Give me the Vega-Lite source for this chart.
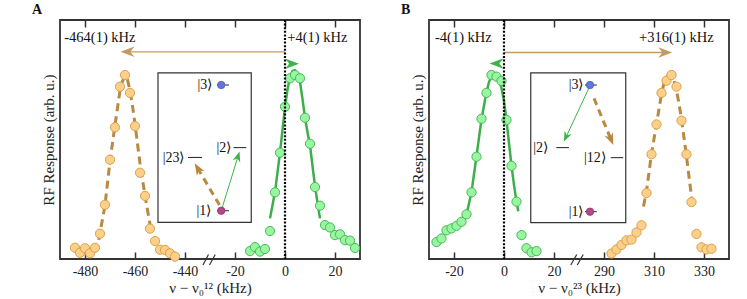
{
  "$schema": "https://vega.github.io/schema/vega-lite/v6.json",
  "background": "white",
  "padding": {"left": 31, "top": 2, "right": 0, "bottom": 0},
  "spacing": 37,
  "config": {
    "view": {"stroke": "#333", "strokeWidth": 1.8}
  },
  "datasets": {
    "orangeA": [
      {"freq": -484, "x": -84, "y": 0.047}, {"freq": -482, "x": -82, "y": 0.026}, {"freq": -480, "x": -80, "y": 0.045},
      {"freq": -478, "x": -78, "y": 0.024}, {"freq": -476, "x": -76, "y": 0.047}, {"freq": -474, "x": -74, "y": 0.106},
      {"freq": -472, "x": -72, "y": 0.227}, {"freq": -470, "x": -70, "y": 0.415}, {"freq": -468, "x": -68, "y": 0.551},
      {"freq": -466, "x": -66, "y": 0.721}, {"freq": -464, "x": -64, "y": 0.770}, {"freq": -462, "x": -62, "y": 0.695},
      {"freq": -460, "x": -60, "y": 0.556}, {"freq": -458, "x": -58, "y": 0.361}, {"freq": -456, "x": -56, "y": 0.264},
      {"freq": -454, "x": -54, "y": 0.127}, {"freq": -452, "x": -52, "y": 0.075}, {"freq": -450, "x": -50, "y": 0.039},
      {"freq": -448, "x": -48, "y": 0.038}, {"freq": -446, "x": -46, "y": 0.024}, {"freq": -444, "x": -44, "y": 0.010}
    ],
    "orangeFitA": [
      {"x": -74.5, "y": 0.08}, {"x": -72, "y": 0.225}, {"x": -70, "y": 0.41}, {"x": -68, "y": 0.56}, {"x": -66, "y": 0.705},
      {"x": -65, "y": 0.745}, {"x": -64, "y": 0.762}, {"x": -63, "y": 0.75}, {"x": -62, "y": 0.705}, {"x": -61, "y": 0.64},
      {"x": -60, "y": 0.565}, {"x": -58, "y": 0.40}, {"x": -56, "y": 0.265}, {"x": -54, "y": 0.145}, {"x": -53.2, "y": 0.11}
    ],
    "greenA": [
      {"x": -14, "y": 0.033}, {"x": -12, "y": 0.050}, {"x": -10, "y": 0.031}, {"x": -8, "y": 0.042}, {"x": -6, "y": 0.117},
      {"x": -4, "y": 0.279}, {"x": -2, "y": 0.445}, {"x": 0, "y": 0.637}, {"x": 2, "y": 0.756}, {"x": 4, "y": 0.770},
      {"x": 6, "y": 0.756}, {"x": 8, "y": 0.591}, {"x": 10, "y": 0.482}, {"x": 12, "y": 0.301}, {"x": 14, "y": 0.223},
      {"x": 16, "y": 0.142}, {"x": 18, "y": 0.132}, {"x": 20, "y": 0.100}, {"x": 22, "y": 0.103}, {"x": 24, "y": 0.079},
      {"x": 26, "y": 0.077}, {"x": 28, "y": 0.046}
    ],
    "greenFitA": [
      {"x": -6, "y": 0.17}, {"x": -4, "y": 0.28}, {"x": -2, "y": 0.445}, {"x": 0, "y": 0.635}, {"x": 1, "y": 0.71},
      {"x": 2, "y": 0.76}, {"x": 3, "y": 0.787}, {"x": 4, "y": 0.79}, {"x": 5, "y": 0.775}, {"x": 6, "y": 0.74},
      {"x": 7, "y": 0.67}, {"x": 8, "y": 0.59}, {"x": 9, "y": 0.53}, {"x": 10, "y": 0.475}, {"x": 11, "y": 0.39},
      {"x": 12, "y": 0.305}, {"x": 13, "y": 0.235}, {"x": 14, "y": 0.17}
    ],
    "orangeB": [
      {"freq": 293, "x": 43, "y": 0.023}, {"freq": 295, "x": 45, "y": 0.040}, {"freq": 297, "x": 47, "y": 0.059},
      {"freq": 299, "x": 49, "y": 0.078}, {"freq": 301, "x": 51, "y": 0.081}, {"freq": 303, "x": 53, "y": 0.111},
      {"freq": 305, "x": 55, "y": 0.141}, {"freq": 307, "x": 57, "y": 0.276}, {"freq": 309, "x": 59, "y": 0.438},
      {"freq": 311, "x": 61, "y": 0.563}, {"freq": 313, "x": 63, "y": 0.695}, {"freq": 315, "x": 65, "y": 0.746},
      {"freq": 317, "x": 67, "y": 0.770}, {"freq": 319, "x": 69, "y": 0.721}, {"freq": 321, "x": 71, "y": 0.579},
      {"freq": 323, "x": 73, "y": 0.438}, {"freq": 325, "x": 75, "y": 0.238}, {"freq": 327, "x": 77, "y": 0.105},
      {"freq": 329, "x": 79, "y": 0.049}, {"freq": 331, "x": 81, "y": 0.040}, {"freq": 333, "x": 83, "y": 0.043}
    ],
    "orangeFitB": [
      {"x": 55.8, "y": 0.22}, {"x": 57, "y": 0.285}, {"x": 59, "y": 0.44}, {"x": 61, "y": 0.565}, {"x": 63, "y": 0.69},
      {"x": 64, "y": 0.735}, {"x": 65, "y": 0.76}, {"x": 66, "y": 0.77}, {"x": 67, "y": 0.765}, {"x": 68, "y": 0.745},
      {"x": 69, "y": 0.705}, {"x": 70, "y": 0.65}, {"x": 71, "y": 0.585}, {"x": 73, "y": 0.43}, {"x": 75, "y": 0.26},
      {"x": 75.4, "y": 0.22}
    ],
    "greenB": [
      {"x": -27, "y": 0.071}, {"x": -25, "y": 0.086}, {"x": -23, "y": 0.120}, {"x": -21, "y": 0.128}, {"x": -19, "y": 0.139},
      {"x": -17, "y": 0.156}, {"x": -15, "y": 0.187}, {"x": -13, "y": 0.279}, {"x": -11, "y": 0.428}, {"x": -9, "y": 0.587},
      {"x": -7, "y": 0.695}, {"x": -5, "y": 0.770}, {"x": -3, "y": 0.763}, {"x": -1, "y": 0.745}, {"x": 1, "y": 0.582},
      {"x": 3, "y": 0.390}, {"x": 5, "y": 0.240}, {"x": 7, "y": 0.100}, {"x": 9, "y": 0.045}, {"x": 11, "y": 0.028},
      {"x": 13, "y": 0.033}
    ],
    "greenFitB": [
      {"x": -14.7, "y": 0.2}, {"x": -13, "y": 0.28}, {"x": -11, "y": 0.43}, {"x": -9, "y": 0.585}, {"x": -7, "y": 0.70},
      {"x": -6, "y": 0.74}, {"x": -5, "y": 0.765}, {"x": -4, "y": 0.775}, {"x": -3, "y": 0.77}, {"x": -2, "y": 0.75},
      {"x": -1, "y": 0.715}, {"x": 0, "y": 0.66}, {"x": 1, "y": 0.58}, {"x": 2, "y": 0.485}, {"x": 3, "y": 0.39},
      {"x": 4, "y": 0.31}, {"x": 5, "y": 0.24}, {"x": 5.7, "y": 0.2}
    ]
  },
  "hconcat": [
    {
      "width": 300,
      "height": 239,
      "title": {"text": "A", "anchor": "start", "frame": "group", "dx": -28, "offset": 2, "font": "Liberation Serif", "fontSize": 14, "fontWeight": "bold", "color": "#111"},
      "layer": [
        {
          "layer": [
            {
              "data": {"values": [{"x": -50.8, "x2": -13.5, "y": 0.779, "y2": 0.153}]},
              "mark": {"type": "rect", "fill": "white", "stroke": "#333", "strokeWidth": 1.2},
              "encoding": {
                "x": {"field": "x", "type": "quantitative", "scale": {"domain": [-90, 30], "nice": false, "zero": false},
                  "axis": {"orient": "bottom", "values": [-80, -60, -40, -20, 0, 20], "labelExpr": "datum.value <= -40 ? '' + (datum.value - 400) : '' + datum.value",
                    "offset": -7, "tickSize": 7, "tickWidth": 1.5, "tickColor": "#333", "domain": false, "grid": false, "labelPadding": 5,
                    "labelFont": "Liberation Serif", "labelFontSize": 14, "labelColor": "#222",
                    "title": "ν − ν₀¹² (kHz)", "titleFont": "Liberation Serif", "titleFontSize": 15, "titleFontWeight": "normal", "titlePadding": 2, "titleColor": "#222"}},
                "x2": {"field": "x2"},
                "y": {"field": "y", "type": "quantitative", "scale": {"domain": [0, 1], "nice": false, "zero": false},
                  "axis": {"orient": "left", "title": "RF Response (arb. u.)", "ticks": false, "labels": false, "domain": false, "grid": false,
                    "titleFont": "Liberation Serif", "titleFontSize": 15, "titleFontWeight": "normal", "titlePadding": 4, "titleColor": "#222"}},
                "y2": {"field": "y2"}
              }
            },
            {
              "data": {"values": [{"x": 0, "x2": -64, "y": 0.867}]},
              "mark": {"type": "rule", "color": "#c39b5e", "strokeWidth": 1.3},
              "encoding": {"x": {"field": "x", "type": "quantitative"}, "x2": {"field": "x2"}, "y": {"field": "y", "type": "quantitative"}}
            },
            {
              "data": {"values": [{"x": -63, "y": 0.867}]},
              "mark": {"type": "point", "shape": "M1,0L-1,-0.75L-0.4,0L-1,0.75Z", "filled": true, "fill": "#c39b5e", "strokeWidth": 0, "opacity": 1, "size": 196, "angle": 180},
              "encoding": {"x": {"field": "x", "type": "quantitative"}, "y": {"field": "y", "type": "quantitative"}}
            },
            {
              "data": {"values": [{"x": 2.8, "y": 0.817}]},
              "mark": {"type": "point", "shape": "M1,0L-1,-0.75L-0.4,0L-1,0.75Z", "filled": true, "fill": "#3cb54a", "strokeWidth": 0, "opacity": 1, "size": 196, "angle": 0},
              "encoding": {"x": {"field": "x", "type": "quantitative"}, "y": {"field": "y", "type": "quantitative"}}
            },
            {
              "data": {"name": "orangeFitA"},
              "mark": {"type": "line", "color": "#b8893f", "strokeWidth": 3, "strokeDash": [8, 5]},
              "encoding": {"x": {"field": "x", "type": "quantitative"}, "y": {"field": "y", "type": "quantitative"}}
            },
            {
              "data": {"name": "orangeA"},
              "mark": {"type": "circle", "fill": "#fdd08a", "stroke": "#dba04f", "strokeWidth": 1, "size": 85, "opacity": 1},
              "encoding": {"x": {"field": "x", "type": "quantitative"}, "y": {"field": "y", "type": "quantitative"}}
            },
            {
              "data": {"name": "greenFitA"},
              "mark": {"type": "line", "color": "#3daf4a", "strokeWidth": 2.5},
              "encoding": {"x": {"field": "x", "type": "quantitative"}, "y": {"field": "y", "type": "quantitative"}}
            },
            {
              "data": {"name": "greenA"},
              "mark": {"type": "circle", "fill": "#98f5a0", "stroke": "#4ab85a", "strokeWidth": 1, "size": 85, "opacity": 1},
              "encoding": {"x": {"field": "x", "type": "quantitative"}, "y": {"field": "y", "type": "quantitative"}}
            },
            {
              "data": {"values": [{"x": -27.2, "x2": -22.4, "y": 0.728}, {"x": -20.6, "x2": -15.5, "y": 0.466}, {"x": -38.8, "x2": -33.2, "y": 0.425}, {"x": -27.2, "x2": -22.4, "y": 0.202}]},
              "mark": {"type": "rule", "color": "#222", "strokeWidth": 1},
              "encoding": {"x": {"field": "x", "type": "quantitative"}, "x2": {"field": "x2"}, "y": {"field": "y", "type": "quantitative"}}
            },
            {
              "data": {"values": [{"x": -25.5, "x2": -18.8, "y": 0.202, "y2": 0.429}]},
              "mark": {"type": "rule", "color": "#3cb54a", "strokeWidth": 1},
              "encoding": {"x": {"field": "x", "type": "quantitative"}, "x2": {"field": "x2"}, "y": {"field": "y", "type": "quantitative"}, "y2": {"field": "y2"}}
            },
            {
              "data": {"values": [{"x": -18.8, "y": 0.429}]},
              "mark": {"type": "point", "shape": "M1,0L-1,-0.75L-0.4,0L-1,0.75Z", "filled": true, "fill": "#3cb54a", "strokeWidth": 0, "opacity": 1, "size": 110, "angle": 287},
              "encoding": {"x": {"field": "x", "type": "quantitative"}, "y": {"field": "y", "type": "quantitative"}}
            },
            {
              "data": {"values": [{"x": -26.2, "x2": -34.9, "y": 0.226, "y2": 0.379}]},
              "mark": {"type": "rule", "color": "#b8893f", "strokeWidth": 3, "strokeDash": [7, 5]},
              "encoding": {"x": {"field": "x", "type": "quantitative"}, "x2": {"field": "x2"}, "y": {"field": "y", "type": "quantitative"}, "y2": {"field": "y2"}}
            },
            {
              "data": {"values": [{"x": -34.9, "y": 0.379}]},
              "mark": {"type": "point", "shape": "M1,0L-1,-0.75L-0.4,0L-1,0.75Z", "filled": true, "fill": "#b8893f", "strokeWidth": 0, "opacity": 1, "size": 144, "angle": 239},
              "encoding": {"x": {"field": "x", "type": "quantitative"}, "y": {"field": "y", "type": "quantitative"}}
            },
            {
              "data": {"values": [{"x": -25.5, "y": 0.728, "state": "3"}, {"x": -25.5, "y": 0.202, "state": "1"}]},
              "mark": {"type": "circle", "size": 55, "opacity": 1, "strokeWidth": 0.8},
              "encoding": {
                "x": {"field": "x", "type": "quantitative"}, "y": {"field": "y", "type": "quantitative"},
                "fill": {"field": "state", "type": "nominal", "scale": {"domain": ["3", "1"], "range": ["#6277d8", "#b04a88"]}, "legend": null},
                "stroke": {"field": "state", "type": "nominal", "scale": {"domain": ["3", "1"], "range": ["#4a5fc0", "#8e3670"]}, "legend": null}
              }
            },
            {
              "data": {"values": [{"x": -29.1, "y": 0.728, "label": "|3⟩"}, {"x": -21.5, "y": 0.466, "label": "|2⟩"}, {"x": -40.2, "y": 0.421, "label": "|23⟩"}, {"x": -29.5, "y": 0.202, "label": "|1⟩"}]},
              "mark": {"type": "text", "align": "right", "baseline": "middle", "font": "Liberation Serif", "fontSize": 14, "color": "#111"},
              "encoding": {"x": {"field": "x", "type": "quantitative"}, "y": {"field": "y", "type": "quantitative"}, "text": {"field": "label"}}
            },
            {
              "data": {"values": [{"x": -88.3, "y": 0.923, "label": "-464(1) kHz"}, {"x": 0.9, "y": 0.923, "label": "+4(1) kHz"}]},
              "mark": {"type": "text", "align": "left", "baseline": "middle", "font": "Liberation Serif", "fontSize": 14.5, "color": "#111"},
              "encoding": {"x": {"field": "x", "type": "quantitative"}, "y": {"field": "y", "type": "quantitative"}, "text": {"field": "label"}}
            },
            {
              "data": {"values": [{"x": -32.8, "x2": -30.6, "y": -0.025, "y2": 0.019}, {"x": -30.2, "x2": -27.9, "y": -0.025, "y2": 0.019}]},
              "mark": {"type": "rule", "color": "#333", "strokeWidth": 1.2},
              "encoding": {"x": {"field": "x", "type": "quantitative"}, "x2": {"field": "x2"}, "y": {"field": "y", "type": "quantitative"}, "y2": {"field": "y2"}}
            }
          ]
        },
        {
          "data": {"values": [{"x": 0}]},
          "mark": {"type": "rule", "color": "black", "strokeWidth": 2.2, "strokeDash": [2, 1.6]},
          "encoding": {
            "x": {"field": "x", "type": "quantitative", "scale": {"domain": [-90, 30], "nice": false, "zero": false},
              "axis": {"orient": "top", "values": [-80, -60, -40, -20, 0, 20], "labels": false, "offset": -7, "tickSize": 7, "tickWidth": 1.5, "tickColor": "#333", "domain": false, "grid": false, "title": null}}
          }
        }
      ]
    },
    {
      "width": 300,
      "height": 239,
      "title": {"text": "B", "anchor": "start", "frame": "group", "dx": -28, "offset": 2, "font": "Liberation Serif", "fontSize": 14, "fontWeight": "bold", "color": "#111"},
      "layer": [
        {
          "layer": [
            {
              "data": {"values": [{"x": 10.7, "x2": 48.7, "y": 0.779, "y2": 0.152}]},
              "mark": {"type": "rect", "fill": "white", "stroke": "#333", "strokeWidth": 1.2},
              "encoding": {
                "x": {"field": "x", "type": "quantitative", "scale": {"domain": [-30, 90], "nice": false, "zero": false},
                  "axis": {"orient": "bottom", "values": [-20, 0, 20, 40, 60, 80], "labelExpr": "datum.value >= 40 ? '' + (datum.value + 250) : '' + datum.value",
                    "offset": -7, "tickSize": 7, "tickWidth": 1.5, "tickColor": "#333", "domain": false, "grid": false, "labelPadding": 5,
                    "labelFont": "Liberation Serif", "labelFontSize": 14, "labelColor": "#222",
                    "title": "ν − ν₀²³ (kHz)", "titleFont": "Liberation Serif", "titleFontSize": 15, "titleFontWeight": "normal", "titlePadding": 2, "titleColor": "#222"}},
                "x2": {"field": "x2"},
                "y": {"field": "y", "type": "quantitative", "scale": {"domain": [0, 1], "nice": false, "zero": false},
                  "axis": {"orient": "left", "title": "RF Response (arb. u.)", "ticks": false, "labels": false, "domain": false, "grid": false,
                    "titleFont": "Liberation Serif", "titleFontSize": 15, "titleFontWeight": "normal", "titlePadding": 4, "titleColor": "#222"}},
                "y2": {"field": "y2"}
              }
            },
            {
              "data": {"values": [{"x": 0, "x2": 66, "y": 0.864}]},
              "mark": {"type": "rule", "color": "#c39b5e", "strokeWidth": 1.3},
              "encoding": {"x": {"field": "x", "type": "quantitative"}, "x2": {"field": "x2"}, "y": {"field": "y", "type": "quantitative"}}
            },
            {
              "data": {"values": [{"x": 64.5, "y": 0.864}]},
              "mark": {"type": "point", "shape": "M1,0L-1,-0.75L-0.4,0L-1,0.75Z", "filled": true, "fill": "#c39b5e", "strokeWidth": 0, "opacity": 1, "size": 196, "angle": 0},
              "encoding": {"x": {"field": "x", "type": "quantitative"}, "y": {"field": "y", "type": "quantitative"}}
            },
            {
              "data": {"values": [{"x": -3, "y": 0.818}]},
              "mark": {"type": "point", "shape": "M1,0L-1,-0.75L-0.4,0L-1,0.75Z", "filled": true, "fill": "#3cb54a", "strokeWidth": 0, "opacity": 1, "size": 196, "angle": 180},
              "encoding": {"x": {"field": "x", "type": "quantitative"}, "y": {"field": "y", "type": "quantitative"}}
            },
            {
              "data": {"name": "orangeFitB"},
              "mark": {"type": "line", "color": "#b8893f", "strokeWidth": 3, "strokeDash": [8, 5]},
              "encoding": {"x": {"field": "x", "type": "quantitative"}, "y": {"field": "y", "type": "quantitative"}}
            },
            {
              "data": {"name": "orangeB"},
              "mark": {"type": "circle", "fill": "#fdd08a", "stroke": "#dba04f", "strokeWidth": 1, "size": 85, "opacity": 1},
              "encoding": {"x": {"field": "x", "type": "quantitative"}, "y": {"field": "y", "type": "quantitative"}}
            },
            {
              "data": {"name": "greenFitB"},
              "mark": {"type": "line", "color": "#3daf4a", "strokeWidth": 2.5},
              "encoding": {"x": {"field": "x", "type": "quantitative"}, "y": {"field": "y", "type": "quantitative"}}
            },
            {
              "data": {"name": "greenB"},
              "mark": {"type": "circle", "fill": "#98f5a0", "stroke": "#4ab85a", "strokeWidth": 1, "size": 85, "opacity": 1},
              "encoding": {"x": {"field": "x", "type": "quantitative"}, "y": {"field": "y", "type": "quantitative"}}
            },
            {
              "data": {"values": [{"x": 32.4, "x2": 37.1, "y": 0.728}, {"x": 20.9, "x2": 26, "y": 0.466}, {"x": 42.7, "x2": 47.7, "y": 0.424}, {"x": 32.4, "x2": 37.1, "y": 0.198}]},
              "mark": {"type": "rule", "color": "#222", "strokeWidth": 1},
              "encoding": {"x": {"field": "x", "type": "quantitative"}, "x2": {"field": "x2"}, "y": {"field": "y", "type": "quantitative"}}
            },
            {
              "data": {"values": [{"x": 34.4, "x2": 24.8, "y": 0.725, "y2": 0.51}]},
              "mark": {"type": "rule", "color": "#3cb54a", "strokeWidth": 1},
              "encoding": {"x": {"field": "x", "type": "quantitative"}, "x2": {"field": "x2"}, "y": {"field": "y", "type": "quantitative"}, "y2": {"field": "y2"}}
            },
            {
              "data": {"values": [{"x": 24.8, "y": 0.51}]},
              "mark": {"type": "point", "shape": "M1,0L-1,-0.75L-0.4,0L-1,0.75Z", "filled": true, "fill": "#3cb54a", "strokeWidth": 0, "opacity": 1, "size": 110, "angle": 115},
              "encoding": {"x": {"field": "x", "type": "quantitative"}, "y": {"field": "y", "type": "quantitative"}}
            },
            {
              "data": {"values": [{"x": 36, "x2": 42.8, "y": 0.672, "y2": 0.5}]},
              "mark": {"type": "rule", "color": "#b8893f", "strokeWidth": 3, "strokeDash": [7, 5]},
              "encoding": {"x": {"field": "x", "type": "quantitative"}, "x2": {"field": "x2"}, "y": {"field": "y", "type": "quantitative"}, "y2": {"field": "y2"}}
            },
            {
              "data": {"values": [{"x": 42.8, "y": 0.5}]},
              "mark": {"type": "point", "shape": "M1,0L-1,-0.75L-0.4,0L-1,0.75Z", "filled": true, "fill": "#b8893f", "strokeWidth": 0, "opacity": 1, "size": 144, "angle": 67.5},
              "encoding": {"x": {"field": "x", "type": "quantitative"}, "y": {"field": "y", "type": "quantitative"}}
            },
            {
              "data": {"values": [{"x": 34.4, "y": 0.728, "state": "3"}, {"x": 34.4, "y": 0.198, "state": "1"}]},
              "mark": {"type": "circle", "size": 55, "opacity": 1, "strokeWidth": 0.8},
              "encoding": {
                "x": {"field": "x", "type": "quantitative"}, "y": {"field": "y", "type": "quantitative"},
                "fill": {"field": "state", "type": "nominal", "scale": {"domain": ["3", "1"], "range": ["#6277d8", "#b04a88"]}, "legend": null},
                "stroke": {"field": "state", "type": "nominal", "scale": {"domain": ["3", "1"], "range": ["#4a5fc0", "#8e3670"]}, "legend": null}
              }
            },
            {
              "data": {"values": [{"x": 31.8, "y": 0.728, "label": "|3⟩"}, {"x": 17.6, "y": 0.466, "label": "|2⟩"}, {"x": 40.7, "y": 0.424, "label": "|12⟩"}, {"x": 31.8, "y": 0.198, "label": "|1⟩"}]},
              "mark": {"type": "text", "align": "right", "baseline": "middle", "font": "Liberation Serif", "fontSize": 14, "color": "#111"},
              "encoding": {"x": {"field": "x", "type": "quantitative"}, "y": {"field": "y", "type": "quantitative"}, "text": {"field": "label"}}
            },
            {
              "data": {"values": [{"x": -27.6, "y": 0.923, "label": "-4(1) kHz"}, {"x": 54, "y": 0.923, "label": "+316(1) kHz"}]},
              "mark": {"type": "text", "align": "left", "baseline": "middle", "font": "Liberation Serif", "fontSize": 14.5, "color": "#111"},
              "encoding": {"x": {"field": "x", "type": "quantitative"}, "y": {"field": "y", "type": "quantitative"}, "text": {"field": "label"}}
            },
            {
              "data": {"values": [{"x": 26.7, "x2": 29.1, "y": -0.025, "y2": 0.019}, {"x": 29.3, "x2": 31.7, "y": -0.025, "y2": 0.019}]},
              "mark": {"type": "rule", "color": "#333", "strokeWidth": 1.2},
              "encoding": {"x": {"field": "x", "type": "quantitative"}, "x2": {"field": "x2"}, "y": {"field": "y", "type": "quantitative"}, "y2": {"field": "y2"}}
            }
          ]
        },
        {
          "data": {"values": [{"x": 0}]},
          "mark": {"type": "rule", "color": "black", "strokeWidth": 2.2, "strokeDash": [2, 1.6]},
          "encoding": {
            "x": {"field": "x", "type": "quantitative", "scale": {"domain": [-30, 90], "nice": false, "zero": false},
              "axis": {"orient": "top", "values": [-20, 0, 20, 40, 60, 80], "labels": false, "offset": -7, "tickSize": 7, "tickWidth": 1.5, "tickColor": "#333", "domain": false, "grid": false, "title": null}}
          }
        }
      ]
    }
  ]
}
